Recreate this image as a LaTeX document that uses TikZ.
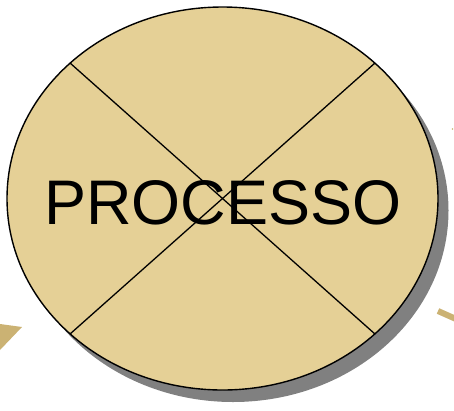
\documentclass[tikz,border=0pt]{standalone}
\usepackage{fontspec}
\setmainfont{Liberation Sans}
\definecolor{tan}{HTML}{E5D096}
\definecolor{dtan}{HTML}{CBB273}
\definecolor{shade}{HTML}{808080}
\usetikzlibrary{shapes.geometric,calc}
\tikzset{
  proc/.style={ellipse, draw=black, line width=1.4pt, fill=tan, minimum width=431pt, minimum height=383pt, inner sep=0pt},
  shadowell/.style={ellipse, fill=shade, minimum width=431pt, minimum height=383pt, inner sep=0pt},
  crossline/.style={draw=black, line width=1.3pt}
}
\begin{document}
\begin{tikzpicture}[x=1pt,y=-1pt]
\useasboundingbox (0,0) rectangle (454,410);
% fragments of neighbouring arrows
\fill[dtan] (0,324) -- (22,327) -- (0,350) -- cycle;
\draw[dtan, line width=6pt] (438,311) -- (456,319);
\fill[dtan] (452.5,129) circle (0.8);
% shadow and ellipse
\node[shadowell] (sh) at (233,210.5) {};
\node[proc] (p) at (222.5,198.5) {};
\coordinate (a) at ($(p.center)+(135:215.5 and 191.5)$);
\coordinate (b) at ($(p.center)+(-45:215.5 and 191.5)$);
\coordinate (c) at ($(p.center)+(45:215.5 and 191.5)$);
\coordinate (d) at ($(p.center)+(-135:215.5 and 191.5)$);
\draw[crossline] (a) -- (b);
\draw[crossline] (c) -- (d);
\node[font=\fontsize{63}{63}\selectfont, inner sep=0pt] (t) at (223,203) {PROCESSO};
\end{tikzpicture}
\end{document}
